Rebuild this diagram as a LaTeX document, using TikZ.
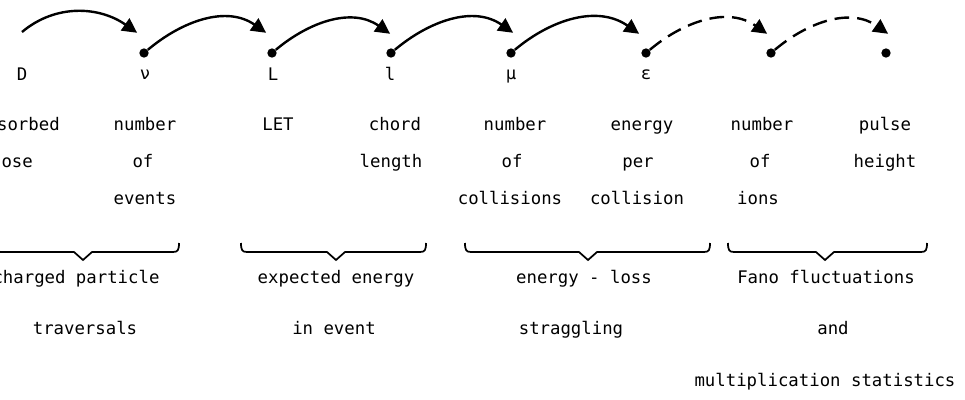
\documentclass[tikz,border=0pt]{standalone}
\usepackage{fontspec}
\setmonofont{DejaVu Sans Mono}
\usetikzlibrary{arrows.meta}
\begin{document}
\begin{tikzpicture}[x=0.75pt,y=-0.75pt,
  every node/.style={font=\ttfamily\fontsize{13}{15}\selectfont, inner sep=0pt, anchor=base},
  stage/.style={circle, fill=black, minimum size=7pt, inner sep=0pt, anchor=center},
  flow/.style={line width=1.8pt, -{Triangle[length=11pt,width=11pt]}, shorten >=-1pt},
  guess/.style={flow, dash pattern=on 11pt off 6pt},
  brace/.style={line width=1.3pt, line join=miter}]
\useasboundingbox (0,0) rectangle (965,400);
\clip (0,0) rectangle (965,400);

% stages of the chain (the first one, absorbed dose, has no marker)
\coordinate (d0) at (20,53);
\node[stage] (nu)  at (144,53) {};
\node[stage] (L)   at (272,53) {};
\node[stage] (l)   at (391,53) {};
\node[stage] (mu)  at (511,53) {};
\node[stage] (eps) at (646,53) {};
\node[stage] (ions) at (771,53) {};
\node[stage] (ph)  at (886,53) {};

% symbols
\node (sD)   at (22,80)  {D};
\node (snu)  at (145,79) {ν};
\node (sL)   at (273,80) {L};
\node (sl)   at (390,80) {l};
\node (smu)  at (511,79) {μ};
\node (seps) at (646,79) {ε};

% transitions
\draw[flow]  ([shift={(2,-21)}]d0)  to[out=40,in=145] ([shift={(-8,-21)}]nu);
\draw[flow]  ([shift={(3,-20)}]nu)  to[out=40,in=145] ([shift={(-7,-21)}]L);
\draw[flow]  ([shift={(5,-20)}]L)   to[out=40,in=145] ([shift={(-2,-20)}]l);
\draw[flow]  ([shift={(3,-14)}]l)   to[out=40,in=145] ([shift={(1,-21)}]mu);
\draw[flow]  ([shift={(7,-18)}]mu)  to[out=40,in=145] ([shift={(-8,-20)}]eps);
\draw[guess] ([shift={(-1,-13)}]eps) to[out=40,in=145] ([shift={(-5,-20)}]ions);
\draw[guess] ([shift={(7,-18)}]ions) to[out=40,in=145] ([shift={(1,-20)}]ph);

% quantity names
\node (t0a) at (18,130)  {absorbed};
\node (t0b) at (12,167)  {dose};
\node (t1a) at (145,130) {number};
\node (t1b) at (143,167) {of};
\node (t1c) at (145,204) {events};
\node (t2a) at (278,130) {LET};
\node (t3a) at (395,130) {chord};
\node (t3b) at (391,167) {length};
\node (t4a) at (515,130) {number};
\node (t4b) at (512,167) {of};
\node (t4c) at (510,204) {collisions};
\node (t5a) at (642,130) {energy};
\node (t5b) at (638,167) {per};
\node (t5c) at (637,204) {collision};
\node (t6a) at (762,130) {number};
\node (t6b) at (760,167) {of};
\node (t6c) at (758,204) {ions};
\node (t7a) at (885,130) {pulse};
\node (t7b) at (885,167) {height};

% grouping braces
\foreach \a/\m/\b in {-5/83/179, 241/336/426, 465/588/710, 728/825/927} {
  \draw[brace] (\a,243) .. controls (\a,250) and (\a+1,252) .. (\a+6,252)
    -- (\m-9,252) -- (\m,260) -- (\m+9,252) -- (\b-6,252)
    .. controls (\b-1,252) and (\b,250) .. (\b,243);
}

% process names
\node (g1a) at (76,283)  {charged particle};
\node (g1b) at (85,334)  {traversals};
\node (g2a) at (336,283) {expected energy};
\node (g2b) at (334,334) {in event};
\node (g3a) at (584,283) {energy - loss};
\node (g3b) at (571,334) {straggling};
\node (g4a) at (826,283) {Fano fluctuations};
\node (g4b) at (833,334) {and};
\node (g4c) at (825,386) {multiplication statistics};
\end{tikzpicture}
\end{document}
